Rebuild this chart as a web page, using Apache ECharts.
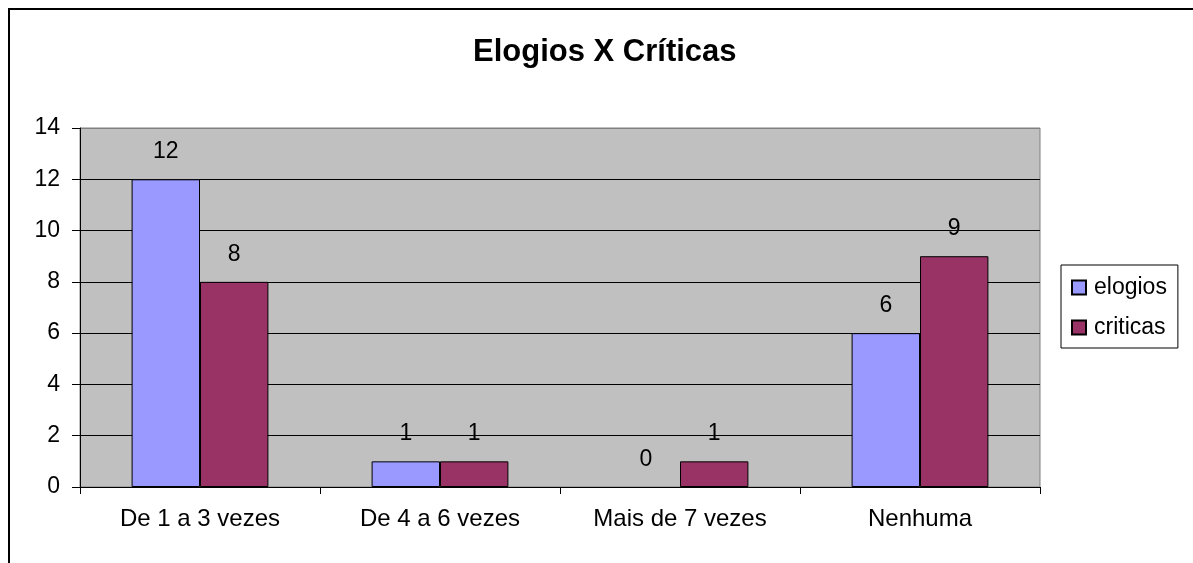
<!DOCTYPE html>
<html>
<head>
<meta charset="utf-8">
<script src="https://cdn.jsdelivr.net/npm/echarts@6/dist/echarts.min.js"></script>
<style>
    html, body {
        margin: 0;
        padding: 0;
        background: #fff;
    }
    .frame {
        position: absolute;
        left: 8px;
        top: 8px;
        width: 1200px;
        height: 600px;
        border: 2px solid #000;
    }
    #chart {
        position: absolute;
        left: 0;
        top: 0;
        width: 1193px;
        height: 563px;
    }
</style>
</head>
<body>
<div class="frame"></div>
<div id="chart"></div>
<script>
const categories = ['De 1 a 3 vezes', 'De 4 a 6 vezes', 'Mais de 7 vezes', 'Nenhuma'];
const elogios = [12, 1, 0, 6];
const criticas = [8, 1, 1, 9];
const yTicks = { min: 0, max: 14, interval: 2 };

const font = "'Liberation Sans', Arial, sans-serif";

let myChart = echarts.init(document.getElementById('chart'));

const labelStyle = {
    show: true,
    position: 'top',
    distance: 16,
    color: '#000',
    fontSize: 23,
    fontFamily: font
};

// a zero bar has no visible outline in the original
const toItems = arr => arr.map(v => ({
    value: v,
    itemStyle: { borderWidth: v === 0 ? 0 : 1 }
}));

let option = {
    animation: false,
    title: {
        text: 'Elogios X Críticas',
        left: 468,
        top: 32,
        padding: 5,
        textStyle: {
            fontFamily: font,
            fontWeight: 'bold',
            fontSize: 31,
            color: '#000'
        }
    },
    legend: {
        orient: 'vertical',
        left: 1061,
        top: 265,
        padding: [11, 11, 9, 10],
        itemGap: 17,
        itemWidth: 14,
        itemHeight: 14,
        icon: 'rect',
        borderColor: '#000',
        borderWidth: 1,
        backgroundColor: '#fff',
        textStyle: {
            fontFamily: font,
            fontSize: 23,
            color: '#000',
            padding: [0, 0, 0, 3]
        },
        data: ['elogios', 'criticas']
    },
    grid: {
        left: 80,
        right: 153,
        top: 128,
        bottom: 76,
        show: true,
        backgroundColor: '#c0c0c0',
        borderColor: '#808080',
        borderWidth: 1
    },
    xAxis: {
        type: 'category',
        data: categories,
        axisLine: {
            show: true,
            lineStyle: { color: '#000', width: 1 }
        },
        axisTick: {
            show: true,
            length: 7,
            alignWithLabel: false,
            lineStyle: { color: '#000' }
        },
        axisLabel: {
            margin: 20,
            fontFamily: font,
            fontSize: 24,
            color: '#000'
        }
    },
    yAxis: {
        type: 'value',
        min: yTicks.min,
        max: yTicks.max,
        interval: yTicks.interval,
        axisLine: {
            show: true,
            lineStyle: { color: '#000', width: 1 }
        },
        axisTick: {
            show: true,
            length: 8,
            lineStyle: { color: '#000' }
        },
        axisLabel: {
            margin: 20,
            fontFamily: font,
            fontSize: 23,
            color: '#000'
        },
        splitLine: {
            show: true,
            lineStyle: {
                // top line (14) sits on the gray plot border
                color: ['#000', '#000', '#000', '#000', '#000', '#000', '#000', '#808080'],
                width: 1
            }
        }
    },
    series: [
        {
            name: 'elogios',
            type: 'bar',
            data: toItems(elogios),
            barGap: '0%',
            barCategoryGap: '43%',
            itemStyle: {
                color: '#9999ff',
                borderColor: '#000',
                borderWidth: 1
            },
            label: labelStyle
        },
        {
            name: 'criticas',
            type: 'bar',
            data: toItems(criticas),
            barGap: '0%',
            barCategoryGap: '43%',
            itemStyle: {
                color: '#993366',
                borderColor: '#000',
                borderWidth: 1
            },
            label: labelStyle
        }
    ]
};

myChart.setOption(option, true);
window.addEventListener('resize', () => {
    myChart.resize();
});
</script>
</body>
</html>
